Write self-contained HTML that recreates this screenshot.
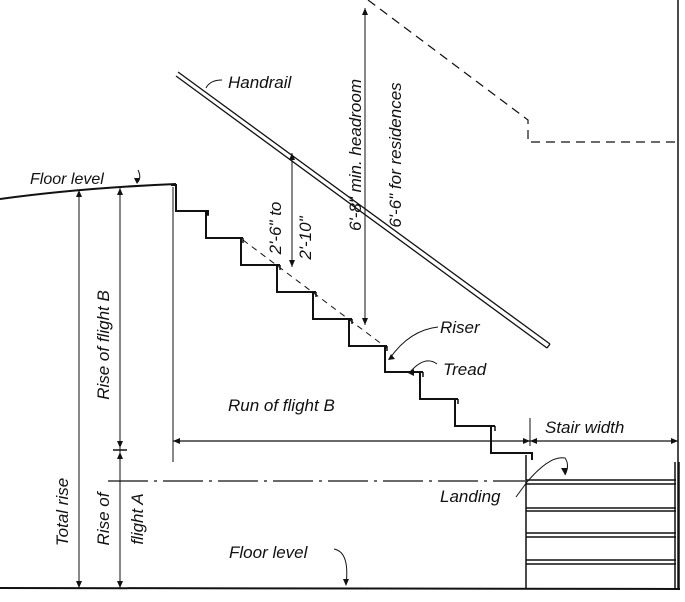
<!DOCTYPE html>
<html><head><meta charset="utf-8"><style>
html,body{margin:0;padding:0;background:#fff;}
svg{display:block;}
text{font-family:"Liberation Sans",sans-serif;fill:#111;}
</style></head><body>
<svg width="685" height="602" viewBox="0 0 685 602" xmlns="http://www.w3.org/2000/svg">
<g fill="none" stroke="#111" stroke-width="1.3">
<path d="M0,199 Q80,188 176,184" stroke-width="2"/>
<path d="M137,183 Q142,178 138,170" stroke-width="1"/>
<path d="M171,185 H176 V211 H208 V215 M206,211 V238 H243 M241,238 V265 H280 M277,265 V292 H316 M313,292 V319 H352 M349,319 V346 H387 M385,346 V372 H423 M420,372 V399 H458 M455,399 V426 H495 M491,426 V453 H532 V460" stroke-width="2"/>
<path d="M208,211 V216 M243,238 V243 M280,265 V270 M316,292 V297 M352,319 V324 M387,346 V351 M423,372 V377 M458,399 V404 M495,426 V431" stroke-width="1.5"/>
<line x1="173" y1="187" x2="173" y2="462" stroke-width="1"/>
<path d="M243,240 L387,348" stroke-dasharray="6,5" stroke-width="1"/>
<line x1="178" y1="72" x2="550" y2="344"/>
<line x1="176" y1="76" x2="547" y2="348"/>
<line x1="550" y1="344" x2="547" y2="348"/>
<path d="M206,88 Q210,80 222,80" stroke-width="1"/>
<line x1="292" y1="153" x2="292" y2="267" stroke-width="1"/>
<line x1="365" y1="8" x2="365" y2="325" stroke-width="1"/>
<path d="M368,0 L528,120 V142 H680" stroke-dasharray="9,6" stroke-width="1.2"/>
<line x1="678" y1="0" x2="678" y2="590" stroke-width="1.5"/>
<line x1="79" y1="190" x2="79" y2="588" stroke-width="1"/>
<line x1="120" y1="188" x2="120" y2="588" stroke-width="1"/>
<line x1="113" y1="450" x2="127" y2="450" stroke-width="1.5"/>
<line x1="173" y1="441" x2="678" y2="441" stroke-width="1.2"/>
<line x1="530" y1="418" x2="530" y2="446" stroke-width="1"/>
<line x1="108" y1="481" x2="525" y2="481" stroke-dasharray="40,6,3,6" stroke-width="1.2"/>
<line x1="526" y1="455" x2="526" y2="588" stroke-width="1.5"/>
<path d="M526,480 H676 M526,484 H676 M526,508 H676 M526,511 H676 M526,533 H676 M526,537 H676 M526,560 H676 M526,564 H676" stroke-width="1.5"/>
<path d="M675,462 V588 M679,462 V588" stroke-width="1.5"/>
<line x1="0" y1="588" x2="680" y2="589" stroke-width="2"/>
<path d="M527,482 Q550,455 565,458 Q570,465 565,475" stroke-width="1"/>
<path d="M516,497 L527,482" stroke-width="1"/>
<path d="M390,358 Q410,330 438,327" stroke-width="1"/>
<path d="M410,372 Q425,355 437,364" stroke-width="1"/>
<path d="M334,549 Q350,552 346,585" stroke-width="1"/>
</g>
<g fill="#111">
<path d="M79,588 l-3,-7 h6z M120,588 l-3,-7 h6z M120,188 l-3,7 h6z M79,190 l-3,7 h6z M120,452 l-3,7 h6z M120,448 l-3,-7 h6z"/>
<path d="M292,153 l-3,7 h6z M292,267 l-3,-7 h6z M365,8 l-3,7 h6z M365,325 l-3,-7 h6z"/>
<path d="M173,441 l7,-3 v6z M530,441 l-7,-3 v6z M530,441 l7,-3 v6z M678,441 l-7,-3 v6z"/>
<path d="M565,475 l-4,-7 h7z M346,586 l-3,-7 h6z M388,360 l7,-1 l-4,-5z M408,373 l6,-4 v7z M137,184 l-3,-6 h6z"/>
</g>
<g font-size="17" font-style="italic">
<text x="30" y="184" font-size="16">Floor level</text>
<text x="228" y="88">Handrail</text>
<text x="440" y="333">Riser</text>
<text x="443" y="375">Tread</text>
<text x="228" y="411">Run of flight B</text>
<text x="545" y="433">Stair width</text>
<text x="440" y="502">Landing</text>
<text x="229" y="558">Floor level</text>
<text transform="translate(68,512) rotate(-90)" text-anchor="middle">Total rise</text>
<text transform="translate(109,345) rotate(-90)" text-anchor="middle">Rise of flight B</text>
<text transform="translate(109,519) rotate(-90)" text-anchor="middle">Rise of</text>
<text transform="translate(143,519) rotate(-90)" text-anchor="middle">flight A</text>
<text transform="translate(281,228) rotate(-90)" text-anchor="middle">2'-6" to</text>
<text transform="translate(311,238) rotate(-90)" text-anchor="middle">2'-10"</text>
<text transform="translate(361,155) rotate(-90)" text-anchor="middle">6'-8" min. headroom</text>
<text transform="translate(401,155) rotate(-90)" text-anchor="middle">6'-6" for residences</text>
</g>
</svg>
</body></html>
